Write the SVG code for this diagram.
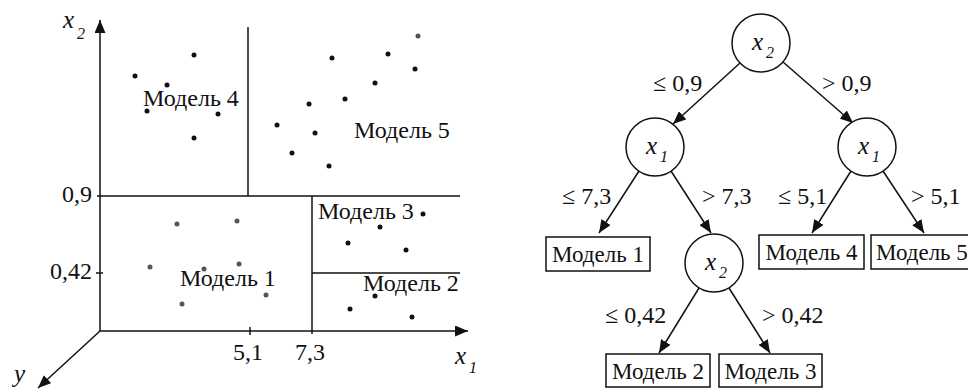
<svg xmlns="http://www.w3.org/2000/svg" width="968" height="389" viewBox="0 0 968 389">
<defs>
<marker id="ah" markerUnits="userSpaceOnUse" markerWidth="13" markerHeight="11" refX="13" refY="5.5" orient="auto">
<path d="M0,0 L13,5.5 L0,11 z" fill="#111"/>
</marker>
</defs>

<g id="chart">
<g id="axes" stroke="#111" stroke-width="1.5" fill="none">
<line x1="100" y1="331" x2="100" y2="20" marker-end="url(#ah)"/>
<line x1="100" y1="331" x2="468" y2="331" marker-end="url(#ah)"/>
<line x1="100" y1="331" x2="38" y2="388" marker-end="url(#ah)"/>
<line x1="97" y1="196" x2="460" y2="196"/>
<line x1="248" y1="27" x2="248" y2="196"/>
<line x1="312" y1="196" x2="312" y2="334"/>
<line x1="312" y1="273" x2="460" y2="273"/>
<line x1="96" y1="273" x2="103" y2="273"/>
<line x1="250" y1="327" x2="250" y2="335"/>
</g>
<g id="chart-labels" fill="#111">
<text style="font-family:'Liberation Serif',serif;font-style:italic;font-size:25px" x="63" y="28">x</text>
<text style="font-family:'Liberation Serif',serif;font-style:italic;font-size:16px" x="77" y="39">2</text>
<text style="font-family:'Liberation Serif',serif;font-style:italic;font-size:25px" x="455" y="364">x</text>
<text style="font-family:'Liberation Serif',serif;font-style:italic;font-size:16px" x="469" y="373">1</text>
<text style="font-family:'Liberation Serif',serif;font-style:italic;font-size:25px" x="14" y="382">y</text>
<text style="font-family:'Liberation Serif',serif;font-size:24px" x="92" y="202" text-anchor="end">0,9</text>
<text style="font-family:'Liberation Serif',serif;font-size:24px" x="92" y="279" text-anchor="end">0,42</text>
<text style="font-family:'Liberation Serif',serif;font-size:24px" x="248" y="360" text-anchor="middle">5,1</text>
<text style="font-family:'Liberation Serif',serif;font-size:24px" x="310" y="360" text-anchor="middle">7,3</text>
<text style="font-family:'Liberation Serif',serif;font-size:24px" x="143" y="106">Модель 4</text>
<text style="font-family:'Liberation Serif',serif;font-size:24px" x="354" y="138">Модель 5</text>
<text style="font-family:'Liberation Serif',serif;font-size:24px" x="180" y="286">Модель 1</text>
<text style="font-family:'Liberation Serif',serif;font-size:24px" x="318" y="219">Модель 3</text>
<text style="font-family:'Liberation Serif',serif;font-size:24px" x="363" y="291">Модель 2</text>
</g>
<g id="dots" fill="#111">
<circle cx="135" cy="76" r="2.5"/>
<circle cx="194" cy="55" r="2.5"/>
<circle cx="167" cy="85" r="2.5"/>
<circle cx="147" cy="111" r="2.5"/>
<circle cx="218" cy="114" r="2.5"/>
<circle cx="194" cy="138" r="2.5"/>
<circle cx="332" cy="58" r="2.5"/>
<circle cx="388" cy="54" r="2.5"/>
<circle cx="418" cy="36" r="2.5" fill="#555"/>
<circle cx="415" cy="69" r="2.5"/>
<circle cx="375" cy="83" r="2.5"/>
<circle cx="345" cy="99" r="2.5"/>
<circle cx="309" cy="104" r="2.5"/>
<circle cx="277" cy="125" r="2.5"/>
<circle cx="315" cy="133" r="2.5"/>
<circle cx="292" cy="153" r="2.5"/>
<circle cx="329" cy="166" r="2.5"/>
<circle cx="177" cy="224" r="2.5" fill="#555"/>
<circle cx="237" cy="221" r="2.5" fill="#555"/>
<circle cx="150" cy="267" r="2.5" fill="#555"/>
<circle cx="204" cy="269" r="2.5" fill="#555"/>
<circle cx="239" cy="264" r="2.5" fill="#555"/>
<circle cx="266" cy="295" r="2.5" fill="#555"/>
<circle cx="182" cy="304" r="2.5" fill="#555"/>
<circle cx="423" cy="214" r="2.5"/>
<circle cx="380" cy="227" r="2.5"/>
<circle cx="348" cy="243" r="2.5"/>
<circle cx="406" cy="250" r="2.5"/>
<circle cx="375" cy="296" r="2.5"/>
<circle cx="350" cy="309" r="2.5"/>
<circle cx="412" cy="317" r="2.5"/>
</g>
</g>

<g id="connectors" stroke="#111" stroke-width="1.5" fill="none">
<line x1="740" y1="63" x2="673" y2="124" marker-end="url(#ah)"/>
<line x1="783" y1="62" x2="853" y2="123" marker-end="url(#ah)"/>
<line x1="639" y1="171" x2="599" y2="233" marker-end="url(#ah)"/>
<line x1="671" y1="171" x2="711" y2="233" marker-end="url(#ah)"/>
<line x1="851" y1="171" x2="812" y2="233" marker-end="url(#ah)"/>
<line x1="883" y1="171" x2="924" y2="233" marker-end="url(#ah)"/>
<line x1="699" y1="288" x2="659" y2="353" marker-end="url(#ah)"/>
<line x1="729" y1="288" x2="770" y2="353" marker-end="url(#ah)"/>
</g>
<g id="edge-labels" fill="#111">
<text style="font-family:'Liberation Serif',serif;font-size:24px" x="653" y="91">≤ 0,9</text>
<text style="font-family:'Liberation Serif',serif;font-size:24px" x="822" y="91">&gt; 0,9</text>
<text style="font-family:'Liberation Serif',serif;font-size:24px" x="562" y="204">≤ 7,3</text>
<text style="font-family:'Liberation Serif',serif;font-size:24px" x="702" y="204">&gt; 7,3</text>
<text style="font-family:'Liberation Serif',serif;font-size:24px" x="778" y="204">≤ 5,1</text>
<text style="font-family:'Liberation Serif',serif;font-size:24px" x="911" y="204">&gt; 5,1</text>
<text style="font-family:'Liberation Serif',serif;font-size:24px" x="605" y="323">≤ 0,42</text>
<text style="font-family:'Liberation Serif',serif;font-size:24px" x="762" y="323">&gt; 0,42</text>
</g>

<g id="root">
<circle cx="761" cy="43" r="29" stroke="#111" stroke-width="1.5" fill="#fff"/>
<text style="font-family:'Liberation Serif',serif;font-style:italic;font-size:25px" fill="#111" x="752" y="50">x</text>
<text style="font-family:'Liberation Serif',serif;font-style:italic;font-size:16px" fill="#111" x="766" y="58">2</text>
</g>
<g id="x1-left">
<circle cx="655" cy="147" r="29" stroke="#111" stroke-width="1.5" fill="#fff"/>
<text style="font-family:'Liberation Serif',serif;font-style:italic;font-size:25px" fill="#111" x="646" y="154">x</text>
<text style="font-family:'Liberation Serif',serif;font-style:italic;font-size:16px" fill="#111" x="660" y="162">1</text>
</g>
<g id="x1-right">
<circle cx="867" cy="147" r="29" stroke="#111" stroke-width="1.5" fill="#fff"/>
<text style="font-family:'Liberation Serif',serif;font-style:italic;font-size:25px" fill="#111" x="858" y="154">x</text>
<text style="font-family:'Liberation Serif',serif;font-style:italic;font-size:16px" fill="#111" x="872" y="162">1</text>
</g>
<g id="x2-lower">
<circle cx="714" cy="263" r="29" stroke="#111" stroke-width="1.5" fill="#fff"/>
<text style="font-family:'Liberation Serif',serif;font-style:italic;font-size:25px" fill="#111" x="705" y="270">x</text>
<text style="font-family:'Liberation Serif',serif;font-style:italic;font-size:16px" fill="#111" x="719" y="278">2</text>
</g>
<g id="model1">
<rect x="546" y="237" width="104" height="34" stroke="#111" stroke-width="1.5" fill="#fff"/>
<text style="font-family:'Liberation Serif',serif;font-size:23px" fill="#111" x="598" y="262" text-anchor="middle">Модель 1</text>
</g>
<g id="model4">
<rect x="759" y="235" width="105" height="34" stroke="#111" stroke-width="1.5" fill="#fff"/>
<text style="font-family:'Liberation Serif',serif;font-size:23px" fill="#111" x="811.5" y="260" text-anchor="middle">Модель 4</text>
</g>
<g id="model5">
<rect x="871" y="235" width="105" height="34" stroke="#111" stroke-width="1.5" fill="#fff"/>
<text style="font-family:'Liberation Serif',serif;font-size:23px" fill="#111" x="876" y="260">Модель 5</text>
</g>
<g id="model2">
<rect x="606" y="354" width="104" height="33" stroke="#111" stroke-width="1.5" fill="#fff"/>
<text style="font-family:'Liberation Serif',serif;font-size:23px" fill="#111" x="658" y="379" text-anchor="middle">Модель 2</text>
</g>
<g id="model3">
<rect x="719" y="354" width="103" height="33" stroke="#111" stroke-width="1.5" fill="#fff"/>
<text style="font-family:'Liberation Serif',serif;font-size:23px" fill="#111" x="770.5" y="379" text-anchor="middle">Модель 3</text>
</g>
</svg>
